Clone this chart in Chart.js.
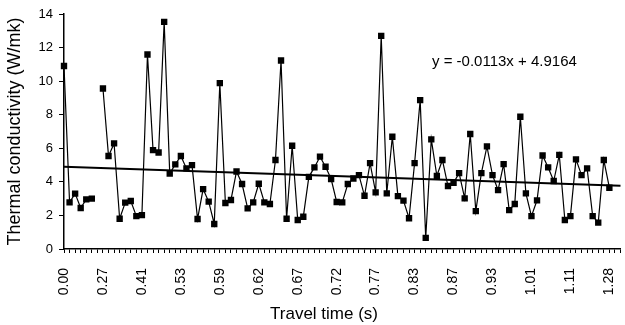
<!DOCTYPE html>
<html>
<head>
<meta charset="utf-8">
<script src="https://cdn.jsdelivr.net/npm/chart.js@4.4.1/dist/chart.umd.min.js"></script>
<style>
    html, body { margin: 0; padding: 0; background: #fff; }
</style>
</head>
<body>
<canvas id="myChart" width="625" height="325"></canvas>
<script>
'use strict';
// x axis labels, one every 7th measurement
const tickLabels = ['0.00', '0.27', '0.41', '0.53', '0.59', '0.62', '0.67', '0.72', '0.77', '0.83', '0.87', '0.93', '1.01', '1.11', '1.28'];
// thermal conductivity (W/mk), one per measurement, null = missing
const conductivity = [
    10.9, 2.78, 3.3, 2.44, 2.96, 3.0, null, 9.56, 5.54, 6.29,
    1.8, 2.76, 2.86, 1.96, 2.02, 11.59, 5.89, 5.75, 13.53, 4.5,
    5.04, 5.54, 4.8, 5.0, 1.79, 3.57, 2.82, 1.49, 9.88, 2.74,
    2.92, 4.62, 3.87, 2.42, 2.78, 3.89, 2.78, 2.68, 5.3, 11.23,
    1.8, 6.15, 1.73, 1.92, 4.3, 4.86, 5.5, 4.9, 4.17, 2.8,
    2.78, 3.87, 4.2, 4.4, 3.17, 5.12, 3.37, 12.7, 3.31, 6.69,
    3.15, 2.88, 1.83, 5.12, 8.87, 0.66, 6.53, 4.36, 5.3, 3.75,
    3.95, 4.52, 3.02, 6.85, 2.26, 4.52, 6.11, 4.4, 3.51, 5.06,
    2.32, 2.68, 7.88, 3.31, 1.96, 2.9, 5.57, 4.86, 4.05, 5.61,
    1.73, 1.96, 5.34, 4.4, 4.8, 1.96, 1.57, 5.3, 3.65
];
// linear trend shown on the chart
const slope = -0.0113;
const intercept = 4.9164;
const labelStep = 7;
const categoryCount = 101;

const categories = [];
for (let i = 0; i < categoryCount; i++) {
    const lbl = i % labelStep === 0 ? tickLabels[i / labelStep] : '';
    categories.push(lbl || '');
}

// trend line only needs its two end points
const trend = new Array(categoryCount).fill(null);
trend[0] = intercept + slope * 1;
trend[categoryCount - 1] = intercept + slope * categoryCount;

const fontFamily = '"Liberation Sans", Arial, sans-serif';

const extraText = {
    id: 'extraText',
    afterDraw: function (chart) {
        const ctx = chart.ctx;
        ctx.save();
        ctx.fillStyle = '#000';
        ctx.textBaseline = 'middle';
        ctx.textAlign = 'left';
        ctx.font = '15px ' + fontFamily;
        ctx.fillText('y = ' + slope.toFixed(4) + 'x + ' + intercept.toFixed(4), 432, 62);
        ctx.textAlign = 'center';
        ctx.font = '17px ' + fontFamily;
        ctx.fillText('Travel time (s)', 324, 314);
        ctx.restore();
    }
};

const ctx = document.getElementById('myChart');
const chart = new Chart(ctx, {
    type: 'line',
    data: {
        labels: categories,
        datasets: [{
            label: 'conductivity',
            data: conductivity,
            borderColor: '#000',
            borderWidth: 1.2,
            pointStyle: 'rect',
            pointRadius: 4.5,
            pointBorderWidth: 0,
            pointBackgroundColor: '#000',
            spanGaps: false,
            tension: 0
        },
        {
            label: 'trend',
            data: trend,
            borderColor: '#000',
            borderWidth: 2,
            pointRadius: 0,
            spanGaps: true
        }]
    },
    options: {
        responsive: false,
        animation: false,
        devicePixelRatio: 1,
        layout: { padding: { top: 14, right: 2, left: 0, bottom: 0 } },
        plugins: {
            legend: { display: false },
            tooltip: { enabled: false }
        },
        scales: {
            x: {
                grid: { drawOnChartArea: false, drawTicks: true, tickLength: 4, color: '#000' },
                border: { color: '#000', width: 1.5 },
                ticks: {
                    autoSkip: false,
                    maxRotation: 90,
                    minRotation: 90,
                    padding: 15,
                    color: '#000',
                    font: { family: fontFamily, size: 14 }
                },
                afterFit: function (scale) {
                    scale.height = 76;
                    scale.paddingLeft = 0;
                    scale.paddingRight = 0;
                }
            },
            y: {
                min: 0,
                max: 14,
                grid: { drawOnChartArea: false, tickLength: 5, color: '#000' },
                border: { color: '#000', width: 1.5 },
                ticks: {
                    stepSize: 2,
                    padding: 6,
                    color: '#000',
                    font: { family: fontFamily, size: 13 }
                },
                title: {
                    display: true,
                    text: 'Thermal conductivity (W/mk)',
                    color: '#000',
                    padding: 4,
                    font: { family: fontFamily, size: 18 }
                },
                afterFit: function (scale) {
                    scale.width = 64;
                }
            }
        }
    },
    plugins: [extraText]
});
</script>
</body>
</html>
